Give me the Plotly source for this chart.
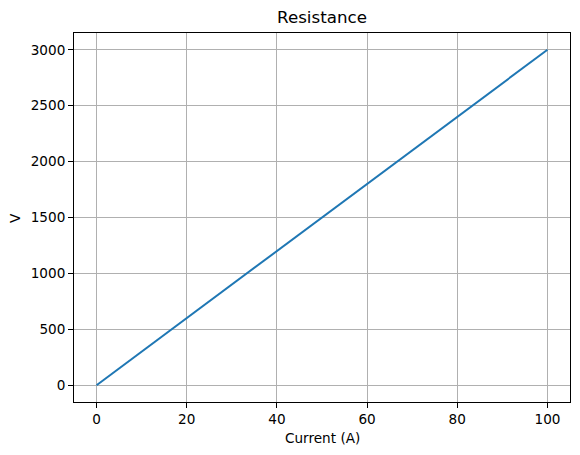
import plotly.graph_objects as go

current = [0, 20, 40, 60, 80, 100]
voltage = [0, 600, 1200, 1800, 2400, 3000]
x_ticks = [0, 20, 40, 60, 80, 100]
y_ticks = [0, 500, 1000, 1500, 2000, 2500, 3000]

FONT = "DejaVu Sans"
TICK_SIZE = 13.6
OFF = 8  # page body margin offset

fig = go.Figure()
fig.add_trace(go.Scatter(x=current, y=voltage, mode="lines",
                         line=dict(color="#1f77b4", width=2)))

axis_common = dict(
    showline=True, linecolor="black", linewidth=1.1, mirror=True,
    ticks="outside", ticklen=4.9, tickwidth=1.1, tickcolor="black",
    showgrid=True, gridcolor="#b0b0b0", gridwidth=1.1,
    zeroline=False, automargin=False,
    tickfont=dict(family=FONT, size=TICK_SIZE, color="black"),
)

fig.update_layout(
    width=580, height=455,
    margin=dict(l=74 - OFF, r=10 + OFF, t=33 - OFF, b=53 + OFF),
    paper_bgcolor="white", plot_bgcolor="white",
    showlegend=False,
    font=dict(family=FONT, color="black"),
    title=dict(text="Resistance", x=0.5, xref="paper", xanchor="center",
               y=1 - (17.5 - OFF) / 455, yref="container", yanchor="middle",
               font=dict(family=FONT, size=16.7, color="black")),
    xaxis=dict(range=[-5, 105], tickvals=x_ticks, **axis_common),
    yaxis=dict(range=[-150, 3150], tickvals=y_ticks, **axis_common),
    annotations=[
        dict(text="Current (A)", xref="paper", yref="paper", x=0.5, y=-(438 - 402) / 369,
             xanchor="center", yanchor="middle", showarrow=False,
             font=dict(family=FONT, size=TICK_SIZE, color="black")),
        dict(text="V", xref="paper", yref="paper", x=-(74 - 15) / 496, y=(402 - 218) / 369,
             xanchor="center", yanchor="middle", showarrow=False, textangle=-90,
             font=dict(family=FONT, size=TICK_SIZE, color="black")),
    ],
)

fig.write_html("out.html")
